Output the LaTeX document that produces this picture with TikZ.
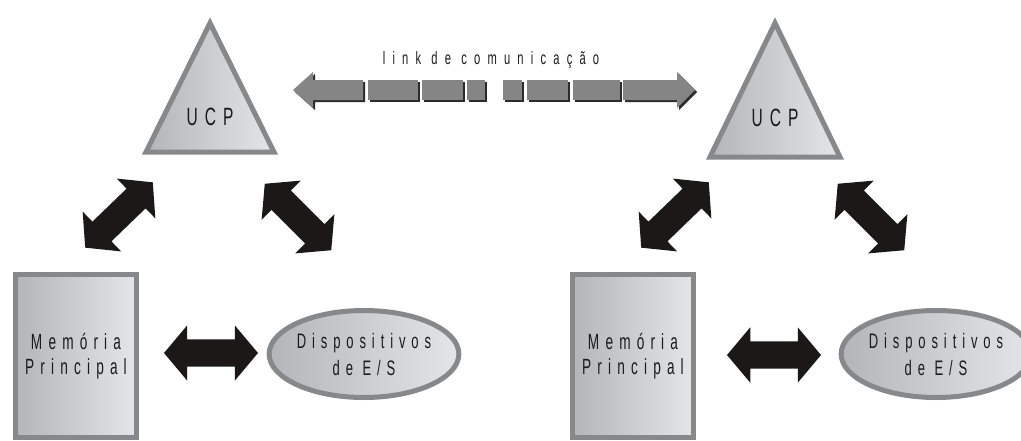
\documentclass[tikz,border=0pt]{standalone}
\usepackage{fontspec}
\usepackage{tikz}
\usetikzlibrary{shapes,positioning,calc}
\newfontfamily\narrowfont[FakeStretch=0.62,LetterSpace=28]{Liberation Sans}
\definecolor{framegray}{HTML}{85898C}
\definecolor{shadeleft}{HTML}{B3B5B8}
\definecolor{shaderight}{HTML}{E4E5E6}
\definecolor{linkgray}{HTML}{858585}
\definecolor{linkdark}{HTML}{2B2B2B}
\definecolor{arrowblack}{HTML}{1C1818}
\definecolor{textdark}{HTML}{1A1A1A}

\begin{document}
\begin{tikzpicture}[x=1pt, y=-1pt,
  unit/.style={draw=framegray, line width=5pt, left color=shadeleft, right color=shaderight, text=textdark},
  membox/.style={unit, rectangle, minimum width=121pt, minimum height=163pt, inner sep=0pt, align=center, font=\narrowfont\fontsize{22}{25}\selectfont},
  iobox/.style={unit, ellipse, minimum width=157pt, minimum height=87pt, inner sep=0pt, align=center, font=\narrowfont\fontsize{21}{27}\selectfont},
  ucptext/.style={text=textdark, inner sep=0pt, font=\narrowfont\fontsize{25}{25}\selectfont},
  bus/.style={double arrow, fill=arrowblack, minimum height=94pt, inner xsep=0pt, inner ysep=13.5pt, double arrow head extend=14pt, double arrow tip angle=100},
  linkbar/.style={fill=linkgray},
  linkshadow/.style={fill=linkdark}]

\useasboundingbox (0,0) rectangle (1021,440);

% LEFT COMPUTER

\draw[unit] (210,23) -- (274,152) -- (146,152) -- cycle;
\node[ucptext] (ucpL) at (210,117) {UCP};

\node[membox] (memL) at (76,356) {Memória\\Principal};
\node[iobox] (ioL) at (364,354) {Dispositivos\\de E/S};

\node[bus, rotate=44] (busLa) at (119,215) {};
\node[bus, rotate=-45] (busLb) at (298,217) {};
\node[bus] (busLc) at (211,353) {};

% RIGHT COMPUTER

\draw[unit] (775,23) -- (840,157) -- (710,157) -- cycle;
\node[ucptext] (ucpR) at (775,118) {UCP};

\node[membox] (memR) at (633,356) {Memória\\Principal};
\node[iobox] (ioR) at (936,354) {Dispositivos\\de E/S};

\node[bus, rotate=44] (busRa) at (675,215) {};
\node[bus, rotate=-45] (busRb) at (871,217) {};
\node[bus] (busRc) at (774,355) {};

% COMMUNICATION LINK

\node[text=textdark, inner sep=0pt, font=\narrowfont\addfontfeature{LetterSpace=40}\fontsize{18}{18}\selectfont] (linktitle) at (491,60) {link de comunicação};

\fill[linkshadow] (295,92) -- (315,74) -- (315,82) -- (365,82) -- (365,102) -- (315,102) -- (315,110) -- cycle;
\fill[linkbar] (293,90) -- (313,72) -- (313,80) -- (363,80) -- (363,100) -- (313,100) -- (313,108) -- cycle;
\foreach \xa/\xb in {368/418,422/463,467/485,503/522,527/568,573/620}{
  \fill[linkshadow] (\xa+2,82) rectangle (\xb+2,102);
  \fill[linkbar] (\xa,80) rectangle (\xb,100);
}
\fill[linkshadow] (625,82) -- (679,82) -- (679,74) -- (697,92) -- (679,110) -- (679,102) -- (625,102) -- cycle;
\fill[linkbar] (623,80) -- (677,80) -- (677,72) -- (695,90) -- (677,108) -- (677,100) -- (623,100) -- cycle;

\end{tikzpicture}
\end{document}
